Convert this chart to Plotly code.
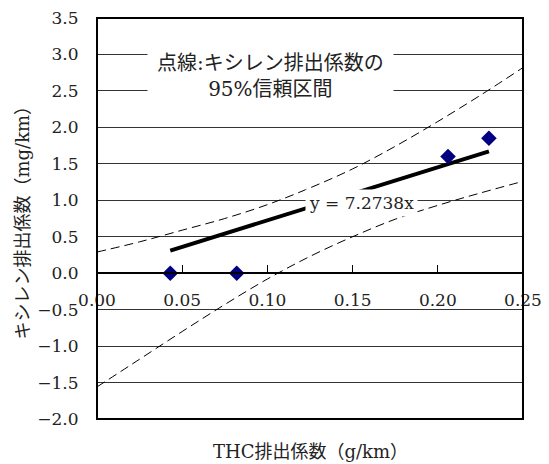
import plotly.graph_objects as go

# Data
thc = [0.043, 0.082, 0.206, 0.230]
xylene = [0.00, 0.00, 1.60, 1.85]

fit_x = [0.043, 0.230]
fit_y = [0.31, 1.67]

ci_x = [0.000, 0.025, 0.050, 0.075, 0.100, 0.125, 0.150, 0.175, 0.200, 0.225, 0.250]
ci_upper = [0.29, 0.43, 0.59, 0.75, 0.94, 1.17, 1.43, 1.74, 2.08, 2.44, 2.82]
ci_lower = [-1.56, -1.18, -0.80, -0.43, -0.08, 0.23, 0.50, 0.74, 0.93, 1.10, 1.26]

x_ticks = [0.00, 0.05, 0.10, 0.15, 0.20, 0.25]
y_ticks = [-2.0, -1.5, -1.0, -0.5, 0.0, 0.5, 1.0, 1.5, 2.0, 2.5, 3.0, 3.5]

fit_label = "y = 7.2738x"
legend_label = "点線:キシレン排出係数の<br>95%信頼区間"
x_title = "THC排出係数（g/km）"
y_title = "キシレン排出係数（mg/km）"

FONT = "DejaVu Serif, Noto Sans CJK JP, serif"

fig = go.Figure()

fig.add_trace(go.Scatter(x=ci_x, y=ci_upper, mode="lines", line=dict(color="black", width=1, dash="9px,5px", shape="spline"), hoverinfo="skip", showlegend=False))
fig.add_trace(go.Scatter(x=ci_x, y=ci_lower, mode="lines", line=dict(color="black", width=1, dash="9px,5px", shape="spline"), hoverinfo="skip", showlegend=False))
fig.add_trace(go.Scatter(x=fit_x, y=fit_y, mode="lines", line=dict(color="black", width=4), showlegend=False))
fig.add_trace(go.Scatter(x=thc, y=xylene, mode="markers", marker=dict(symbol="diamond", size=12, color="#000080"), showlegend=False))

fig.add_annotation(x=0.1553, y=0.96, xref="x", yref="y", text=fit_label, showarrow=False,
                   font=dict(family=FONT, size=17, color="#222"), bgcolor="white", borderpad=3)
fig.add_annotation(x=0.1019, y=2.70, xref="x", yref="y", text=legend_label, showarrow=False,
                   font=dict(family=FONT, size=20, color="#222"), bgcolor="white", borderpad=9, align="center")
fig.add_annotation(x=0.5, y=-0.08, xref="paper", yref="paper", text=x_title, showarrow=False,
                   font=dict(family=FONT, size=18, color="#222"), yanchor="middle")
fig.add_annotation(x=-0.176, y=0.5, xref="paper", yref="paper", text=y_title, showarrow=False, textangle=-90,
                   font=dict(family=FONT, size=18, color="#222"), xanchor="center", yanchor="middle")

fig.add_shape(type="rect", xref="paper", yref="paper", x0=0, y0=0, x1=1, y1=1,
              line=dict(color="black", width=2), layer="above")

fig.update_layout(
    width=541, height=456,
    margin=dict(l=89, r=26, t=10, b=45),
    paper_bgcolor="white", plot_bgcolor="white",
    font=dict(family=FONT, size=17, color="#222"),
    xaxis=dict(range=[0, 0.25], tickvals=x_ticks, tickformat=".2f", showgrid=False, zeroline=False,
               anchor="free", position=2.0 / 5.5, showline=True, linecolor="black", linewidth=1.5,
               ticks="inside", ticklen=7, tickcolor="black", tickwidth=1, ticklabelstandoff=12,
               automargin=False, tickfont=dict(family=FONT, size=17, color="#222")),
    yaxis=dict(range=[-2.0, 3.5], tickvals=y_ticks, tickformat=".1f", showgrid=True, gridcolor="#333",
               gridwidth=1, zeroline=False, showline=False, ticks="outside", ticklen=14,
               tickcolor="rgba(0,0,0,0)", ticklabeloverflow="allow",
               automargin=False, tickfont=dict(family=FONT, size=17, color="#222")),
)

fig.write_html("out.html")
